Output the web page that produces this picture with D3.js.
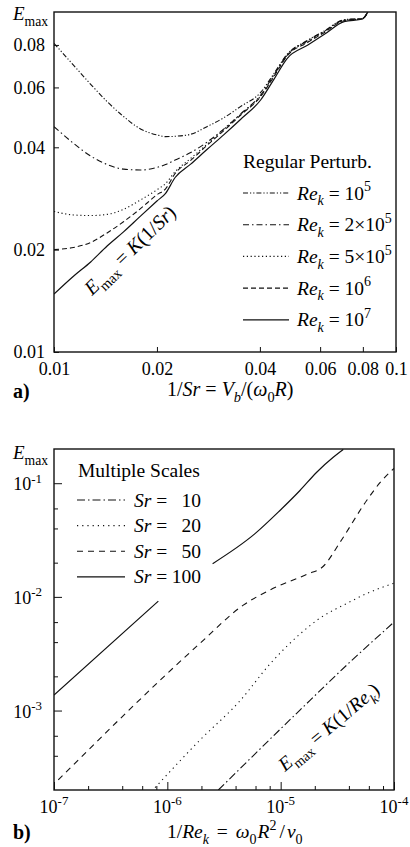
<!DOCTYPE html>
<html><head><meta charset="utf-8">
<script src="https://cdn.jsdelivr.net/npm/d3@7"></script>
<style>
html,body{margin:0;padding:0;background:#fff;}
svg{display:block;}
text{fill:#000;white-space:pre;}
</style></head><body>
<svg id="c" width="410" height="847"></svg>
<script>
// ---------- Panel a: Regular Perturbation ----------
const xA = [0.0100,0.0114,0.0128,0.0143,0.0160,0.0179,0.0200,0.0212,0.0226,0.0251,0.0280,0.0314,0.0351,0.0402,0.0440,0.0481,0.0551,0.0616,0.0705,0.0799,0.0827];
const re1e5 = [0.0809,0.0698,0.0613,0.0545,0.0492,0.0453,0.0435,0.0430,0.0431,0.0437,0.0460,0.0489,0.0527,0.0580,0.0660,0.0752,0.0825,0.0879,0.0949,0.0958,0.1];
const re2e5 = [0.0460,0.0411,0.0377,0.0356,0.0345,0.0343,0.0349,0.0356,0.0367,0.0386,0.0414,0.0453,0.0501,0.0570,0.0654,0.0749,0.0822,0.0877,0.0947,0.0958,0.1];
const re5e5 = [0.0259,0.0253,0.0252,0.0254,0.0263,0.0280,0.0300,0.0313,0.0339,0.0371,0.0408,0.0452,0.0500,0.0567,0.0651,0.0747,0.0818,0.0873,0.0945,0.0956,0.1];
const re1e6 = [0.0200,0.0203,0.0210,0.0224,0.0242,0.0264,0.0290,0.0302,0.0335,0.0366,0.0405,0.0448,0.0497,0.0564,0.0647,0.0744,0.0813,0.0869,0.0943,0.0956,0.1];
const re1e7 = [0.0148,0.0167,0.0184,0.0205,0.0226,0.0251,0.0278,0.0293,0.0326,0.0357,0.0394,0.0436,0.0483,0.0551,0.0635,0.0731,0.0798,0.0858,0.0937,0.0954,0.1];
const seriesALabels = [["10","5"],["2×10","5"],["5×10","5"],["10","6"],["10","7"]];
const xTicksA = [0.01,0.02,0.04,0.06,0.08,0.1];
const yTicksA = [0.01,0.02,0.04,0.06,0.08];

// ---------- Panel b: Multiple Scales ----------
const sr10X = [2.82e-6,1.48e-5,4.09e-5,1e-4];
const sr10Y = [2.0e-4,1.01e-3,2.67e-3,6.0e-3];
const sr20X = [7.8e-7,1.94e-6,4.38e-6,8.05e-6,1.48e-5,2.22e-5,3.83e-5,5.74e-5,1e-4];
const sr20Y = [2.1e-4,5.5e-4,1.22e-3,2.57e-3,4.71e-3,6.5e-3,8.75e-3,1.07e-2,1.32e-2];
const sr50X = [1.09e-7,1.94e-6,4.68e-6,8.05e-6,1.70e-5,2.38e-5,3.34e-5,5.74e-5,7.52e-5,1e-4];
const sr50Y = [2.45e-4,3.90e-3,8.46e-3,1.15e-2,1.58e-2,1.86e-2,3.02e-2,7.05e-2,1.01e-1,1.35e-1];
const sr100X = [1e-7,8.33e-7,null,2.51e-6,5.94e-6,9.86e-6,1.48e-5,2.08e-5,2.91e-5,3.57e-5];
const sr100Y = [1.37e-3,9.17e-3,null,1.96e-2,3.60e-2,5.76e-2,8.63e-2,1.25e-1,1.69e-1,1.98e-1];
const seriesBLabels = ["10","20","50","100"];
const xMajorB = [1e-7,1e-6,1e-5,1e-4];
const xMinorB = [2e-7,4e-7,6e-7,8e-7,2e-6,4e-6,6e-6,8e-6,2e-5,4e-5,6e-5,8e-5];
const yMajorB = [1e-3,1e-2,1e-1];
const yMinorB = [4e-4,6e-4,2e-3,4e-3,6e-3,2e-2,4e-2,6e-2];
const xLabB = ["-7","-6","-5","-4"];
const yLabB = ["-3","-2","-1"];

const svg = d3.select("#c");
const INK = "#111";
const FONT = "Liberation Serif";

function txt(g){ return g.append("text").attr("font-family",FONT); }
function rich(t, parts, size){
  t.attr("font-family",FONT);
  let off = 0;
  parts.forEach(p=>{
    const o = p[1]||{};
    const small = o.sub||o.sup;
    const fs = small ? size*0.72 : size;
    const target = o.sub ? size*0.3 : (o.sup ? -size*0.42 : 0);
    const ts = t.append("tspan").text(p[0]).attr("font-size",fs).attr("font-family",FONT);
    if (Math.abs(target-off)>1e-6) ts.attr("dy",target-off);
    if (o.i) ts.attr("font-style","italic");
    if (o.dx) ts.attr("dx",o.dx);
    off = target;
  });
  return t;
}

// ===== Panel a =====
const xa = d3.scaleLog().domain([0.01,0.1]).range([54,396]);
const ya = d3.scaleLog().domain([0.01,0.1]).range([352,12]);
const dashA = ["5,2,1.2,2,1.2,2","6,3,1.5,3","1.2,2.6","5,3",null];
const dataA = [re1e5,re2e5,re5e5,re1e6,re1e7];

svg.append("clipPath").attr("id","clipA").append("rect")
  .attr("x",54).attr("y",12).attr("width",342).attr("height",340);
const gA = svg.append("g");
const lineA = d3.line().x(d=>xa(d[0])).y(d=>ya(d[1])).curve(d3.curveMonotoneX);
dataA.forEach((ys,i)=>{
  gA.append("path").attr("clip-path","url(#clipA)")
    .attr("d",lineA(xA.map((x,j)=>[x,ys[j]])))
    .attr("fill","none").attr("stroke",INK).attr("stroke-width",i===4?1.2:1.1)
    .attr("stroke-dasharray",dashA[i]);
});

const axA_x = gA.append("g").attr("transform","translate(0,352)")
  .call(d3.axisBottom(xa).tickValues(xTicksA).tickSizeInner(-5).tickSizeOuter(0).tickPadding(10).tickFormat(d3.format(".2~f")));
const axA_y = gA.append("g").attr("transform","translate(54,0)")
  .call(d3.axisLeft(ya).tickValues(yTicksA).tickSizeInner(-5).tickSizeOuter(0).tickPadding(9).tickFormat(d3.format(".2f")));
[axA_x,axA_y].forEach(g=>{
  g.select(".domain").remove();
  g.attr("font-family",FONT).attr("font-size",18);
  g.selectAll("line").attr("stroke",INK);
  g.selectAll("text").attr("font-size",18).attr("font-family",FONT).attr("fill","#000");
});
gA.append("rect").attr("x",54).attr("y",12).attr("width",342).attr("height",340)
  .attr("fill","none").attr("stroke",INK).attr("stroke-width",1.4);

rich(gA.append("text").attr("x",13).attr("y",20),[["E",{i:1}],["max",{sub:1}]],19);
rich(gA.append("text").attr("x",167).attr("y",396),
  [["1/"],["Sr",{i:1}],[" = "],["V",{i:1}],["b",{i:1,sub:1}],["/("],["ω",{i:1}],["0",{sub:1}],["R",{i:1}],[")"]],20);
txt(gA).attr("x",13).attr("y",398).attr("font-size",20).attr("font-weight","bold").text("a)");

txt(gA).attr("x",243).attr("y",168).attr("font-size",19.5).text("Regular Perturb.");
seriesALabels.forEach((lab,i)=>{
  const yy = 193 + i*31.7;
  gA.append("line").attr("x1",243).attr("x2",289).attr("y1",yy).attr("y2",yy)
    .attr("stroke",INK).attr("stroke-width",i===4?1.2:1.1).attr("stroke-dasharray",dashA[i]);
  rich(gA.append("text").attr("x",297).attr("y",yy+6.5),
    [["Re",{i:1}],["k",{i:1,sub:1}],[" = "+lab[0]],[lab[1],{sup:1}]],19.5);
});
rich(gA.append("text").attr("transform","translate(92,296) rotate(-44)"),
  [["E",{i:1}],["max",{sub:1}],[" = "],["K",{i:1}],["(1/"],["Sr",{i:1}],[")"]],20);

// ===== Panel b =====
const xb = d3.scaleLog().domain([1e-7,1e-4]).range([54,394]);
const yb = d3.scaleLog().domain([2e-4,0.2]).range([790,449]);
const dashB = ["8,3,1.5,3","1.2,4","6,5",null];
const dataB = [[sr10X,sr10Y],[sr20X,sr20Y],[sr50X,sr50Y],[sr100X,sr100Y]];
svg.append("clipPath").attr("id","clipB").append("rect")
  .attr("x",54).attr("y",449).attr("width",340).attr("height",341);
const gB = svg.append("g");
const lineB = d3.line().defined(d=>d[0]!==null).x(d=>xb(d[0])).y(d=>yb(d[1])).curve(d3.curveMonotoneX);
dataB.forEach((s,i)=>{
  gB.append("path").attr("clip-path","url(#clipB)")
    .attr("d",lineB(s[0].map((x,j)=>[x,s[1][j]])))
    .attr("fill","none").attr("stroke",INK).attr("stroke-width",i===3?1.2:1.1)
    .attr("stroke-dasharray",dashB[i]);
});
function tickAxis(g, axis){
  g.call(axis); g.select(".domain").remove(); g.selectAll("text").remove();
  g.selectAll("line").attr("stroke",INK);
}
tickAxis(gB.append("g").attr("transform","translate(0,790)"),
  d3.axisBottom(xb).tickValues(xMajorB).tickSizeInner(-8).tickSizeOuter(0));
tickAxis(gB.append("g").attr("transform","translate(0,790)"),
  d3.axisBottom(xb).tickValues(xMinorB).tickSizeInner(-4).tickSizeOuter(0));
tickAxis(gB.append("g").attr("transform","translate(54,0)"),
  d3.axisLeft(yb).tickValues(yMajorB).tickSizeInner(-8).tickSizeOuter(0));
tickAxis(gB.append("g").attr("transform","translate(54,0)"),
  d3.axisLeft(yb).tickValues(yMinorB).tickSizeInner(-4).tickSizeOuter(0));
gB.append("rect").attr("x",54).attr("y",449).attr("width",340).attr("height",341)
  .attr("fill","none").attr("stroke",INK).attr("stroke-width",1.4);
xMajorB.forEach((v,i)=>{
  rich(gB.append("text").attr("x",xb(v)).attr("y",813).attr("text-anchor","middle"),[["10"],[xLabB[i],{sup:1}]],18);
});
yMajorB.forEach((v,i)=>{
  rich(gB.append("text").attr("x",42).attr("y",yb(v)+7).attr("text-anchor","end"),[["10"],[yLabB[i],{sup:1}]],18);
});
rich(gB.append("text").attr("x",13).attr("y",459),[["E",{i:1}],["max",{sub:1}]],19);
rich(gB.append("text").attr("x",167).attr("y",838),
  [["1/"],["Re",{i:1}],["k",{i:1,sub:1}],[" = ",{dx:3}],["ω",{i:1,dx:3}],["0",{sub:1}],["R",{i:1,dx:1}],["2",{sup:1}],["/",{dx:3}],["ν",{i:1,dx:2}],["0",{sub:1}]],19.5);
txt(gB).attr("x",13).attr("y",839).attr("font-size",20).attr("font-weight","bold").text("b)");

txt(gB).attr("x",78).attr("y",477).attr("font-size",19.5).text("Multiple Scales");
seriesBLabels.forEach((lab,i)=>{
  const yy = 500 + i*25.6;
  gB.append("line").attr("x1",77).attr("x2",125).attr("y1",yy).attr("y2",yy)
    .attr("stroke",INK).attr("stroke-width",i===3?1.2:1.1).attr("stroke-dasharray",dashB[i]);
  rich(gB.append("text").attr("x",134).attr("y",yy+6.5),[["Sr",{i:1}],[" ="]],19.5);
  txt(gB).attr("x",201).attr("y",yy+6.5).attr("text-anchor","end").attr("font-size",19.5).text(lab);
});
rich(gB.append("text").attr("transform","translate(285,772) rotate(-40)"),
  [["E",{i:1}],["max",{sub:1}],[" = "],["K",{i:1}],["(1/"],["Re",{i:1}],["k",{i:1,sub:1}],[")"]],19.5);
</script>
</body></html>
